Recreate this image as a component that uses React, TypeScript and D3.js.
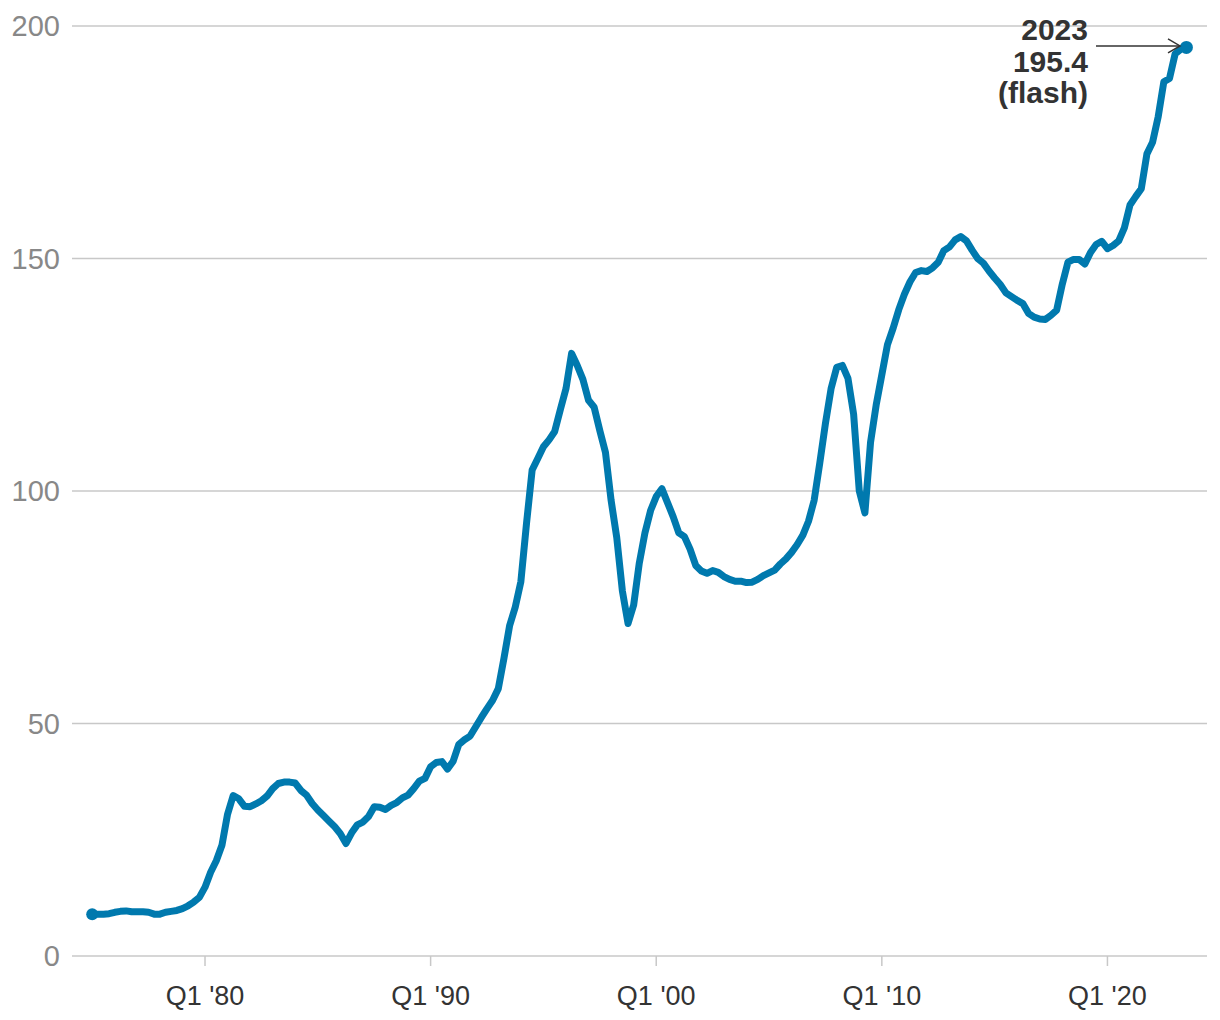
import React from "react";
import * as d3 from "d3";

// Quarterly values, Q1 1975 .. Q3 2023
const startYear = 1975;
const values: number[] = [
  // 1975-1979
  9.0, 9.0, 9.0, 9.1, 9.4, 9.6, 9.7, 9.5, 9.5, 9.5, 9.4, 9.0, 9.0, 9.4, 9.6, 9.8, 10.2, 10.8, 11.6, 12.6,
  // 1980-1984
  14.8, 18.0, 20.5, 23.8, 30.5, 34.5, 33.8, 32.2, 32.1, 32.7, 33.4, 34.4, 36.0, 37.1, 37.4, 37.4, 37.2, 35.6, 34.6, 32.8,
  // 1985-1989
  31.4, 30.2, 29.0, 27.8, 26.3, 24.2, 26.5, 28.2, 28.8, 30.0, 32.1, 32.0, 31.5, 32.4, 33.0, 34.0, 34.6, 36.0, 37.6, 38.2,
  // 1990-1994
  40.7, 41.6, 41.8, 40.2, 41.9, 45.5, 46.5, 47.3, 49.3, 51.3, 53.2, 55.0, 57.5, 64.0, 71.0, 75.0, 80.5, 93.0, 104.5, 107.0,
  // 1995-1999
  109.5, 111.0, 112.8, 117.5, 122.0, 129.6, 127.0, 124.0, 119.5, 118.0, 113.0, 108.3, 98.0, 90.0, 78.5, 71.5, 75.5, 84.5, 91.0, 95.8,
  // 2000-2004
  98.8, 100.5, 97.5, 94.5, 91.0, 90.2, 87.5, 84.0, 82.8, 82.3, 82.9, 82.5, 81.6, 81.0, 80.6, 80.6, 80.3, 80.4, 81.0, 81.8,
  // 2005-2009
  82.4, 83.0, 84.3, 85.4, 86.8, 88.5, 90.5, 93.5, 98.0, 106.0, 114.5, 122.0, 126.6, 127.0, 124.2, 116.5, 100.0, 95.3, 110.5, 118.5,
  // 2010-2014
  125.0, 131.5, 135.0, 139.0, 142.3, 145.0, 147.0, 147.4, 147.2, 148.0, 149.2, 151.7, 152.5, 154.0, 154.7, 153.8, 151.8, 150.0, 149.0, 147.3,
  // 2015-2019
  145.8, 144.4, 142.6, 141.8, 141.0, 140.3, 138.2, 137.4, 137.0, 136.9, 137.8, 138.9, 144.5, 149.2, 149.8, 149.8, 148.8, 151.3, 153.0, 153.7,
  // 2020-2023
  152.1, 152.8, 153.8, 156.6, 161.5, 163.3, 165.0, 172.5, 175.0, 180.5, 188.0, 188.7, 194.0, 195.0, 195.4,
];

const yTicks = [0, 50, 100, 150, 200];
const xTickYears = [1980, 1990, 2000, 2010, 2020];
const xTickLabels = ["Q1 '80", "Q1 '90", "Q1 '00", "Q1 '10", "Q1 '20"];
const annotationLines = ["2023", "195.4", "(flash)"];

const W = 1220;
const H = 1020;
const LINE = "#0079ae";
const FONT = "'Liberation Sans', Arial, sans-serif";

export default function App() {
  const data = values.map((v, i) => ({ t: startYear + i * 0.25, v }));
  const x = d3.scaleLinear().domain([1975, 2023.5]).range([92.2, 1186.4]);
  const y = d3.scaleLinear().domain([0, 200]).range([956, 26]);
  const line = d3
    .line<{ t: number; v: number }>()
    .x((d) => x(d.t))
    .y((d) => y(d.v));
  const first = data[0];
  const last = data[data.length - 1];
  const gridX0 = 72;
  const gridX1 = 1207;
  const ay = y(last.v) - 1.5;

  return (
    <div style={{ position: "absolute", left: 0, top: 0 }}>
      <svg width={W} height={H} style={{ display: "block", background: "#fff" }}>
        {yTicks.map((t) => (
          <g key={t}>
            <line x1={gridX0} x2={gridX1} y1={y(t)} y2={y(t)} stroke="#c8c8c8" strokeWidth={1.5} />
            <text
              x={60}
              y={y(t)}
              dy="0.36em"
              textAnchor="end"
              fontFamily={FONT}
              fontSize={29}
              fill="#888"
            >
              {t}
            </text>
          </g>
        ))}
        {xTickYears.map((yr, i) => (
          <g key={yr}>
            <line x1={x(yr)} x2={x(yr)} y1={y(0)} y2={y(0) + 10} stroke="#c8c8c8" strokeWidth={1.5} />
            <text
              x={x(yr)}
              y={1005}
              textAnchor="middle"
              fontFamily={FONT}
              fontSize={27}
              fill="#333"
            >
              {xTickLabels[i]}
            </text>
          </g>
        ))}
        <path
          d={line(data) || ""}
          fill="none"
          stroke={LINE}
          strokeWidth={7}
          strokeLinejoin="round"
          strokeLinecap="round"
        />
        <circle cx={x(first.t)} cy={y(first.v)} r={6} fill={LINE} />
        <circle cx={x(last.t)} cy={y(last.v)} r={6.5} fill={LINE} />
        {annotationLines.map((s, i) => (
          <text
            key={s}
            x={1088}
            y={40 + i * 31.5}
            textAnchor="end"
            fontFamily={FONT}
            fontWeight="bold"
            fontSize={30}
            fill="#333"
          >
            {s}
          </text>
        ))}
        <line x1={1096} x2={1180} y1={ay} y2={ay} stroke="#333" strokeWidth={1.5} />
        <polyline
          points={`1168,${ay - 7} 1180,${ay} 1168,${ay + 7}`}
          fill="none"
          stroke="#333"
          strokeWidth={1.5}
        />
      </svg>
    </div>
  );
}
